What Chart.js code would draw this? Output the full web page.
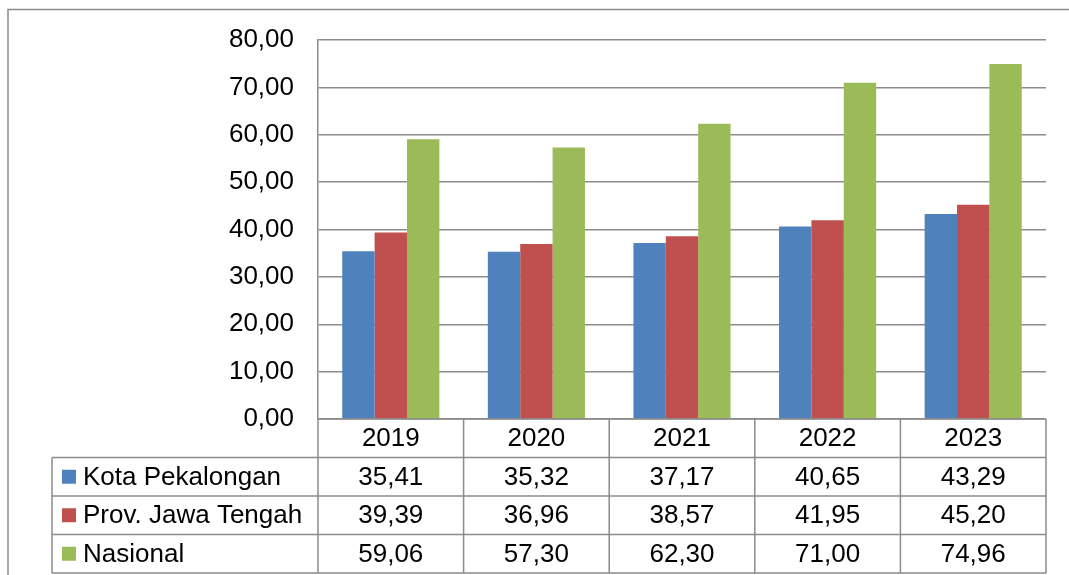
<!DOCTYPE html>
<html>
<head>
<meta charset="utf-8">
<script src="https://cdn.jsdelivr.net/npm/chart.js@4/dist/chart.umd.min.js"></script>
<style>
  html, body { margin: 0; padding: 0; background: #ffffff; }
  #wrap { width: 1069px; height: 575px; position: relative; }
</style>
</head>
<body>
<div id="wrap"><canvas id="c" width="1069" height="575"></canvas></div>
<script>
const categories = ["2019", "2020", "2021", "2022", "2023"];
const seriesNames = ["Kota Pekalongan", "Prov. Jawa Tengah", "Nasional"];
const kotaPekalongan = [35.41, 35.32, 37.17, 40.65, 43.29];
const provJawaTengah = [39.39, 36.96, 38.57, 41.95, 45.20];
const nasional = [59.06, 57.30, 62.30, 71.00, 74.96];
const yMin = 0, yMax = 80, yStep = 10;

const colors = ["#4F81BD", "#C0504D", "#9BBB59"];
const lineColor = "#8c8c8c";
const FONT = '"Liberation Sans", Arial, sans-serif';
const fmt = v => v.toFixed(2).replace('.', ',');

const seriesValues = [kotaPekalongan, provJawaTengah, nasional];

const tablePlugin = {
  id: 'dataTable',
  afterDraw(chart) {
    const ctx = chart.ctx;
    const xs = chart.scales.x;
    const area = chart.chartArea;
    const left = area.left, right = area.right, top0 = area.bottom;
    const rowH = 38.5;
    const rows = [top0, top0 + rowH, top0 + 2 * rowH, top0 + 3 * rowH, top0 + 4 * rowH];
    const labelLeft = 52;
    const centers = categories.map((c, i) => xs.getPixelForValue(i));
    const bounds = [left];
    for (let i = 0; i < centers.length - 1; i++) bounds.push((centers[i] + centers[i + 1]) / 2);
    bounds.push(right);

    ctx.save();
    ctx.strokeStyle = lineColor;
    ctx.lineWidth = 1.5;
    ctx.beginPath();
    // outer frame
    ctx.moveTo(8, 575); ctx.lineTo(8, 9.5); ctx.lineTo(1069, 9.5);
    // horizontal table lines
    for (let r = 1; r < rows.length; r++) {
      ctx.moveTo(labelLeft, rows[r]); ctx.lineTo(right, rows[r]);
    }
    ctx.moveTo(left, rows[0]); ctx.lineTo(right, rows[0]);
    // vertical lines
    ctx.moveTo(labelLeft, rows[1]); ctx.lineTo(labelLeft, rows[4]);
    bounds.forEach(b => { ctx.moveTo(b, rows[0]); ctx.lineTo(b, rows[4]); });
    ctx.stroke();

    ctx.fillStyle = '#000';
    ctx.font = '26px ' + FONT;
    ctx.textAlign = 'center';
    ctx.textBaseline = 'middle';
    categories.forEach((c, i) => {
      ctx.fillText(c, centers[i], (rows[0] + rows[1]) / 2 + 1);
    });
    seriesValues.forEach((vals, s) => {
      const yc = (rows[s + 1] + rows[s + 2]) / 2 + 1;
      ctx.textAlign = 'center';
      vals.forEach((v, i) => ctx.fillText(fmt(v), centers[i], yc));
      ctx.fillStyle = colors[s];
      ctx.fillRect(62, yc - 8, 14, 14);
      ctx.fillStyle = '#000';
      ctx.textAlign = 'left';
      ctx.fillText(seriesNames[s], 83, yc);
    });
    ctx.restore();
  }
};

new Chart(document.getElementById('c'), {
  type: 'bar',
  data: {
    labels: categories,
    datasets: seriesValues.map((vals, s) => ({
      label: seriesNames[s],
      data: vals,
      backgroundColor: colors[s],
      borderWidth: 0,
      barPercentage: 1.0,
      categoryPercentage: 0.667
    }))
  },
  options: {
    responsive: false,
    animation: false,
    events: [],
    layout: { padding: { top: 40, right: 23, bottom: 156, left: 0 } },
    plugins: { legend: { display: false }, tooltip: { enabled: false }, title: { display: false } },
    scales: {
      x: { display: false },
      y: {
        min: yMin, max: yMax,
        ticks: {
          stepSize: yStep,
          padding: 24,
          color: '#000',
          font: { family: FONT, size: 26 },
          callback: v => fmt(v)
        },
        grid: { color: lineColor, lineWidth: 1.5, drawTicks: false },
        border: { display: true, color: lineColor, width: 1.5 },
        afterFit: scale => { scale.width = 318; }
      }
    }
  },
  plugins: [tablePlugin]
});
</script>
</body>
</html>
